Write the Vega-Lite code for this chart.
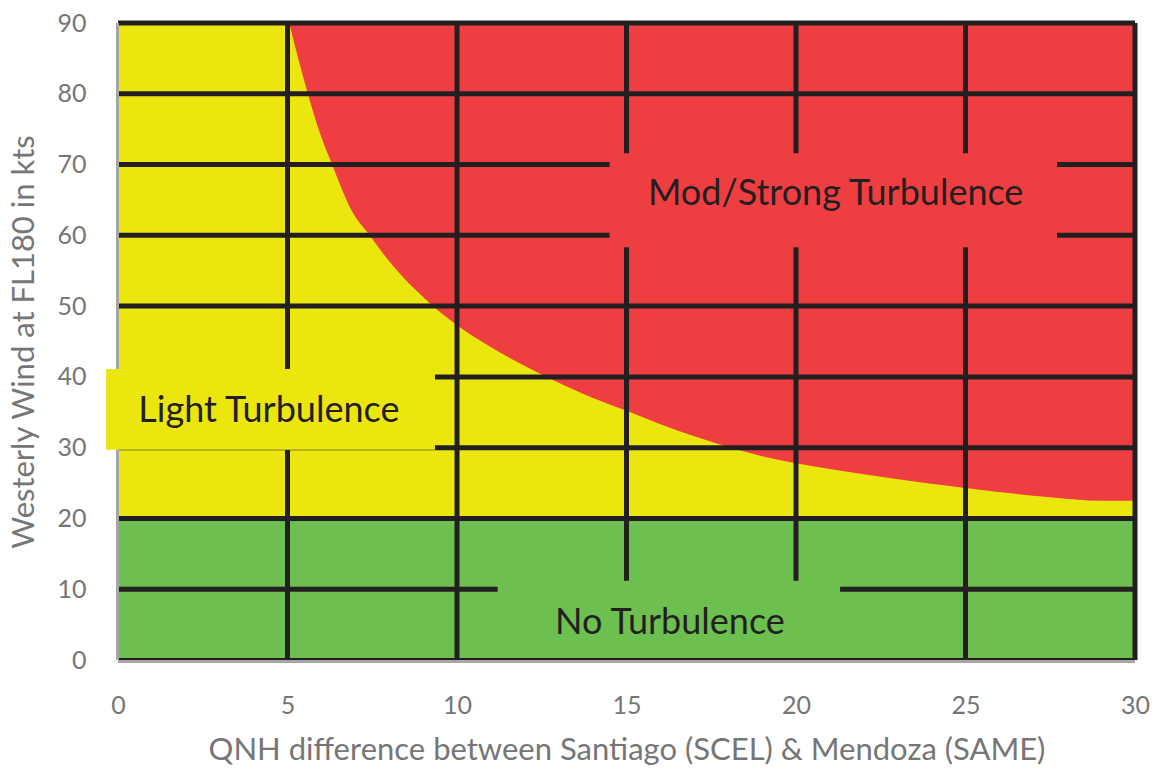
{
  "$schema": "https://vega.github.io/schema/vega-lite/v6.json",
  "width": 1017,
  "height": 637,
  "autosize": "none",
  "padding": {"left": 118, "top": 23, "right": 25, "bottom": 109},
  "background": "white",
  "config": {"view": {"stroke": null}, "font": "Lato"},
  "datasets": {
    "bands": [
      {"region": "No Turbulence", "x": 0, "x2": 30, "y": 0, "y2": 20},
      {"region": "Light Turbulence", "x": 0, "x2": 30, "y": 20, "y2": 90}
    ],
    "curve": [
      {"region": "Mod/Strong Turbulence", "qnh": 5.05, "wind": 90},
      {"region": "Mod/Strong Turbulence", "qnh": 5.57, "wind": 80.5},
      {"region": "Mod/Strong Turbulence", "qnh": 5.96, "wind": 74.4},
      {"region": "Mod/Strong Turbulence", "qnh": 6.3, "wind": 70.2},
      {"region": "Mod/Strong Turbulence", "qnh": 6.94, "wind": 63.1},
      {"region": "Mod/Strong Turbulence", "qnh": 7.38, "wind": 60.3},
      {"region": "Mod/Strong Turbulence", "qnh": 7.97, "wind": 56.5},
      {"region": "Mod/Strong Turbulence", "qnh": 9.2, "wind": 50.4},
      {"region": "Mod/Strong Turbulence", "qnh": 10.0, "wind": 47.3},
      {"region": "Mod/Strong Turbulence", "qnh": 10.97, "wind": 44.3},
      {"region": "Mod/Strong Turbulence", "qnh": 12.65, "wind": 40},
      {"region": "Mod/Strong Turbulence", "qnh": 13.63, "wind": 37.8},
      {"region": "Mod/Strong Turbulence", "qnh": 15, "wind": 35.2},
      {"region": "Mod/Strong Turbulence", "qnh": 16, "wind": 33.3},
      {"region": "Mod/Strong Turbulence", "qnh": 17, "wind": 31.6},
      {"region": "Mod/Strong Turbulence", "qnh": 18, "wind": 30.1},
      {"region": "Mod/Strong Turbulence", "qnh": 19, "wind": 28.8},
      {"region": "Mod/Strong Turbulence", "qnh": 20, "wind": 27.8},
      {"region": "Mod/Strong Turbulence", "qnh": 21, "wind": 27.0},
      {"region": "Mod/Strong Turbulence", "qnh": 22.5, "wind": 25.9},
      {"region": "Mod/Strong Turbulence", "qnh": 25, "wind": 24.3},
      {"region": "Mod/Strong Turbulence", "qnh": 27.5, "wind": 23.0},
      {"region": "Mod/Strong Turbulence", "qnh": 29, "wind": 22.5},
      {"region": "Mod/Strong Turbulence", "qnh": 30, "wind": 22.5}
    ],
    "vgrid": [{"v": 5}, {"v": 10}, {"v": 15}, {"v": 20}, {"v": 25}, {"v": 30}],
    "hgrid": [{"v": 10}, {"v": 20}, {"v": 30}, {"v": 40}, {"v": 50}, {"v": 60}, {"v": 70}, {"v": 80}, {"v": 90}],
    "boxes": [
      {"region": "Light Turbulence", "x": -0.35, "x2": 9.35, "y": 29.7, "y2": 41.1},
      {"region": "Mod/Strong Turbulence", "x": 14.5, "x2": 27.7, "y": 58.3, "y2": 71.6},
      {"region": "No Turbulence", "x": 11.2, "x2": 21.3, "y": 0.3, "y2": 11.2}
    ],
    "labels": [
      {"label": "Light Turbulence", "x": 4.45, "y": 33.66},
      {"label": "Mod/Strong Turbulence", "x": 21.17, "y": 64.27},
      {"label": "No Turbulence", "x": 16.28, "y": 3.67}
    ]
  },
  "layer": [
    {
      "data": {"name": "bands"},
      "mark": {"type": "rect"},
      "encoding": {
        "x": {"field": "x", "type": "quantitative", "scale": {"domain": [0, 30]},
          "axis": {"values": [0, 5, 10, 15, 20, 25, 30], "domain": false, "ticks": false, "grid": false,
            "labelFlush": false,
            "labelFont": "Lato", "labelFontSize": 25, "labelColor": "#767676", "labelPadding": 33,
            "title": "QNH difference between Santiago (SCEL) & Mendoza (SAME)",
            "titleFont": "Lato", "titleFontSize": 31, "titleFontWeight": "normal", "titleColor": "#767676",
            "titleBaseline": "alphabetic", "titleY": 99}},
        "x2": {"field": "x2"},
        "y": {"field": "y", "type": "quantitative", "scale": {"domain": [0, 90]},
          "axis": {"values": [0, 10, 20, 30, 40, 50, 60, 70, 80, 90], "domain": false, "ticks": false, "grid": false,
            "labelFlush": false,
            "labelFont": "Lato", "labelFontSize": 25, "labelColor": "#767676", "labelPadding": 32,
            "title": "Westerly Wind at FL180 in kts",
            "titleFont": "Lato", "titleFontSize": 31, "titleFontWeight": "normal", "titleColor": "#767676",
            "titleBaseline": "alphabetic", "titleX": -85}},
        "y2": {"field": "y2"},
        "color": {"field": "region", "type": "nominal", "legend": null,
          "scale": {"domain": ["No Turbulence", "Light Turbulence", "Mod/Strong Turbulence"],
            "range": ["#6dbf4f", "#ebe70e", "#ef3e42"]}}
      }
    },
    {
      "data": {"name": "curve"},
      "mark": {"type": "area", "interpolate": "monotone"},
      "encoding": {
        "x": {"field": "qnh", "type": "quantitative"},
        "y": {"field": "wind", "type": "quantitative"},
        "y2": {"datum": 90},
        "color": {"field": "region", "type": "nominal", "legend": null}
      }
    },
    {
      "data": {"name": "vgrid"},
      "mark": {"type": "rule", "color": "#231f20", "strokeWidth": 5},
      "encoding": {"x": {"field": "v", "type": "quantitative"}}
    },
    {
      "data": {"name": "hgrid"},
      "mark": {"type": "rule", "color": "#231f20", "strokeWidth": 5},
      "encoding": {"y": {"field": "v", "type": "quantitative"}}
    },
    {
      "data": {"values": [{"v": 0}]},
      "mark": {"type": "rule", "color": "#231f20", "strokeWidth": 2, "yOffset": -1},
      "encoding": {"y": {"field": "v", "type": "quantitative"}}
    },
    {
      "data": {"values": [{"v": 0}]},
      "mark": {"type": "rule", "color": "#a6a6a6", "strokeWidth": 3, "yOffset": 1.5},
      "encoding": {"y": {"field": "v", "type": "quantitative"}}
    },
    {
      "data": {"values": [{"v": 0}]},
      "mark": {"type": "rule", "color": "#a6a6a6", "strokeWidth": 3, "xOffset": -0.5},
      "encoding": {"x": {"field": "v", "type": "quantitative"}}
    },
    {
      "data": {"name": "boxes"},
      "mark": {"type": "rect"},
      "encoding": {
        "x": {"field": "x", "type": "quantitative"},
        "x2": {"field": "x2"},
        "y": {"field": "y", "type": "quantitative"},
        "y2": {"field": "y2"},
        "color": {"field": "region", "type": "nominal", "legend": null}
      }
    },
    {
      "data": {"name": "labels"},
      "mark": {"type": "text", "font": "Lato", "fontSize": 36, "color": "#231f20", "align": "center", "baseline": "alphabetic"},
      "encoding": {
        "x": {"field": "x", "type": "quantitative"},
        "y": {"field": "y", "type": "quantitative"},
        "text": {"field": "label"}
      }
    }
  ]
}
